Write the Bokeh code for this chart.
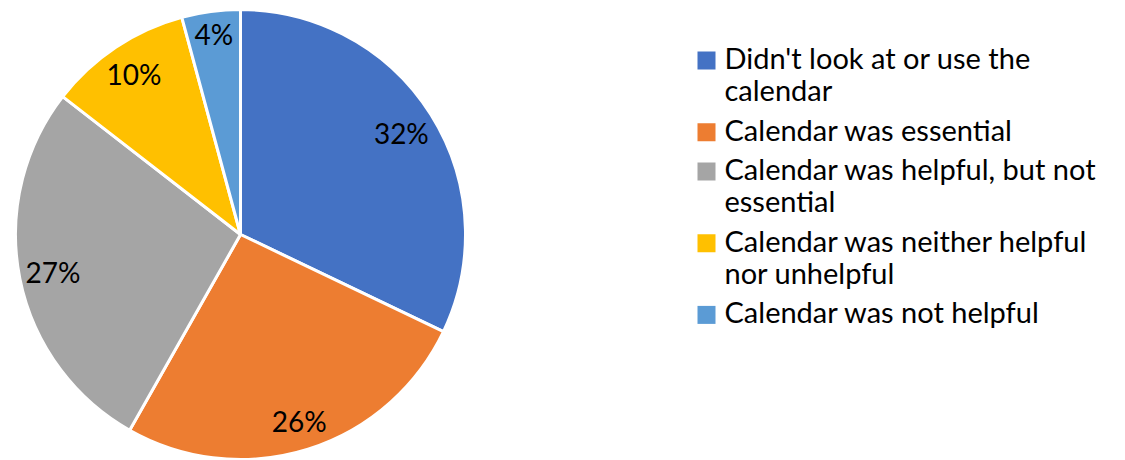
import math
import textwrap
from bokeh.plotting import figure
from bokeh.models import Range1d, ColumnDataSource
from bokeh.core.properties import value
from bokeh.embed import file_html
from bokeh.resources import INLINE

# ---- data ----
categories = [
    "Didn't look at or use the calendar",
    "Calendar was essential",
    "Calendar was helpful, but not essential",
    "Calendar was neither helpful nor unhelpful",
    "Calendar was not helpful",
]
shares = [32.1, 26.1, 27.3, 10.3, 4.2]
colors = ["#4472C4", "#ED7D31", "#A5A5A5", "#FFC000", "#5B9BD5"]

# ---- layout (screen pixel coordinates, y downward) ----
W, H = 1125, 460
cx, cy, R = 240, 234, 225
label_r = [0.845, 0.87, 0.85, 0.855, 0.9]
FONT = "Lato"
FS = "29px"
TXT_SHIFT = -11

p = figure(width=W, height=H, output_backend="svg", toolbar_location=None,
           x_range=Range1d(0, W), y_range=Range1d(-H, 0),
           x_axis_type=None, y_axis_type=None, min_border=0)
p.outline_line_color = None
p.grid.visible = False
p.background_fill_color = "white"
p.border_fill_color = "white"

total = sum(shares)
starts, ends, lx, ly, ltxt = [], [], [], [], []
cum = 0.0
for i, v in enumerate(shares):
    a0 = math.pi / 2 - 2 * math.pi * cum / total
    cum += v
    a1 = math.pi / 2 - 2 * math.pi * cum / total
    starts.append(a0)
    ends.append(a1)
    mid = (a0 + a1) / 2
    r = R * label_r[i]
    lx.append(cx + r * math.cos(mid))
    ly.append(-cy + r * math.sin(mid))
    ltxt.append(f"{round(v)}%")

src = ColumnDataSource(dict(start=starts, end=ends, color=colors))
p.wedge(x=cx, y=-cy, radius=R, start_angle="start", end_angle="end",
        direction="clock", fill_color="color", line_color="white",
        line_width=3, source=src)

p.text(x=lx, y=ly, text=ltxt, text_font=value(FONT), text_font_size="28px",
       text_color="#000000", text_align="center", text_baseline="middle")

# ---- legend ----
sq_x, txt_x = 706, 724
base = 68
line_h, gap = 32.4, 39.3
sqx, sqy, tx, ty, tt = [], [], [], [], []
for cat in categories:
    lines = textwrap.wrap(cat, 29)
    sqx.append(sq_x)
    sqy.append(-(base - 8))
    for j, ln in enumerate(lines):
        tx.append(txt_x)
        ty.append(-(base + TXT_SHIFT + j * line_h))
        tt.append(ln)
    base = base + (len(lines) - 1) * line_h + gap

p.rect(x=sqx, y=sqy, width=18, height=18, fill_color=colors, line_color=None)
p.text(x=tx, y=ty, text=tt, text_font=value(FONT), text_font_size=FS,
       text_color="#000000", text_align="left", text_baseline="alphabetic")

open("out.html", "w").write(file_html(p, INLINE))
